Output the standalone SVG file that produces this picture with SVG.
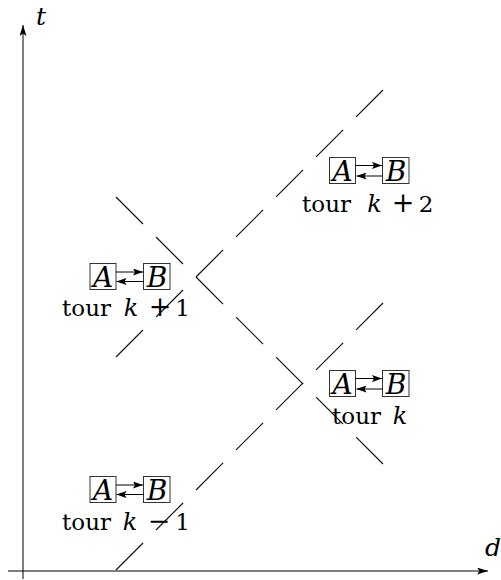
<svg xmlns="http://www.w3.org/2000/svg" width="501" height="580" viewBox="0 0 501 580">
<style>
text{font-family:'DejaVu Serif',serif;font-size:23px;fill:#000;text-anchor:middle}
.it{font-style:italic;font-size:24px}
.ab{font-style:italic;font-size:28px}
.op{font-size:27px}
.box{fill:none;stroke:#333;stroke-width:1}
.arr{stroke:#000;stroke-width:1;fill:none;marker-end:url(#ah)}
.dash{stroke:#111;stroke-width:1.2;fill:none;stroke-dasharray:38.2 18.4}
.axis{stroke:#000;stroke-width:1;fill:none;marker-end:url(#axh)}
</style>
<defs>
<marker id="ah" viewBox="0 0 10 7" refX="10" refY="3.5" markerWidth="10" markerHeight="7" orient="auto" markerUnits="userSpaceOnUse">
<path d="M0,0 L10,3.5 L0,7 L2,3.5 z" fill="#000"/>
</marker>
<marker id="axh" viewBox="0 0 11 7" refX="11" refY="3.5" markerWidth="11" markerHeight="7" orient="auto" markerUnits="userSpaceOnUse">
<path d="M0,0 L11,3.5 L0,7 L2.5,3.5 z" fill="#000"/>
</marker>
</defs>
<g id="axes">
<line class="axis" x1="8" y1="571" x2="488" y2="571"/>
<line class="axis" x1="23" y1="579" x2="23" y2="25"/>
<text class="it" style="font-size:25px" x="41" y="25">t</text>
<text class="it" style="font-size:25px" x="493" y="556">d</text>
</g>
<g id="connectors">
<line class="dash" x1="116" y1="570" x2="383" y2="303"/>
<line class="dash" x1="116" y1="357" x2="383" y2="90"/>
<line class="dash" x1="116" y1="197" x2="383" y2="464"/>
</g>
<g id="node-k1">
<rect class="box" x="90" y="263.5" width="26" height="26"/>
<rect class="box" x="143.5" y="263.5" width="26.5" height="26"/>
<text class="ab" x="103" y="287">A</text>
<text class="ab" x="157" y="287">B</text>
<line class="arr" x1="116" y1="272" x2="143" y2="272"/>
<line class="arr" x1="143.5" y1="281.5" x2="116.5" y2="281.5"/>
<text y="316"><tspan x="86.5">tour</tspan><tspan class="it" x="131">k</tspan><tspan class="op" x="160">+</tspan><tspan x="182.5">1</tspan></text>
</g>
<g id="node-k2">
<rect class="box" x="329.5" y="157.5" width="26" height="26"/>
<rect class="box" x="382.5" y="157.5" width="26.5" height="26"/>
<text class="ab" x="342.5" y="181">A</text>
<text class="ab" x="396" y="181">B</text>
<line class="arr" x1="355.5" y1="165.5" x2="382" y2="165.5"/>
<line class="arr" x1="382.5" y1="176" x2="356.5" y2="176"/>
<text y="211.5"><tspan x="326.5">tour</tspan><tspan class="it" x="374.5">k</tspan><tspan class="op" x="403">+</tspan><tspan x="426">2</tspan></text>
</g>
<g id="node-k">
<rect class="box" x="329.5" y="370.5" width="26" height="26"/>
<rect class="box" x="382.5" y="370.5" width="26.5" height="26"/>
<text class="ab" x="342.5" y="394">A</text>
<text class="ab" x="396" y="394">B</text>
<line class="arr" x1="355.5" y1="378.5" x2="382" y2="378.5"/>
<line class="arr" x1="382.5" y1="389" x2="356.5" y2="389"/>
<text y="424"><tspan x="356.5">tour</tspan><tspan class="it" x="400">k</tspan></text>
</g>
<g id="node-km1">
<rect class="box" x="90" y="476.5" width="26" height="26"/>
<rect class="box" x="143.5" y="476.5" width="26.5" height="26"/>
<text class="ab" x="103" y="500">A</text>
<text class="ab" x="157" y="500">B</text>
<line class="arr" x1="116" y1="485" x2="143" y2="485"/>
<line class="arr" x1="143.5" y1="494.5" x2="116.5" y2="494.5"/>
<text y="530"><tspan x="86.5">tour</tspan><tspan class="it" x="130">k</tspan><tspan class="op" x="159">−</tspan><tspan x="182.5">1</tspan></text>
</g>
</svg>
